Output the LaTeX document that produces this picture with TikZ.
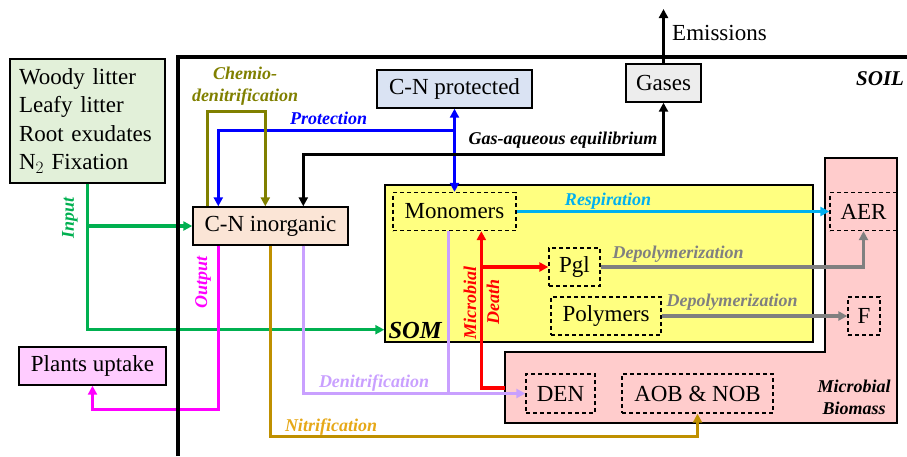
\documentclass[tikz,border=0pt]{standalone}
\usepackage{fontspec}
\setmainfont{Liberation Serif}
\usetikzlibrary{arrows.meta,calc}
\definecolor{litterc}{HTML}{E2F0D9}
\definecolor{inorgc}{HTML}{FBE5D6}
\definecolor{protc}{HTML}{DAE3F3}
\definecolor{gasc}{HTML}{EDEDED}
\definecolor{somc}{HTML}{FFFF80}
\definecolor{pinkc}{HTML}{FFCCCC}
\definecolor{plantc}{HTML}{FFCCFF}
\definecolor{greenl}{HTML}{00B050}
\definecolor{magl}{HTML}{FF00FF}
\definecolor{lavl}{HTML}{C9A0FF}
\definecolor{goldl}{HTML}{BF9000}
\definecolor{goldt}{HTML}{E6A817}
\definecolor{olivel}{HTML}{808000}
\definecolor{bluel}{HTML}{0000FF}
\definecolor{skyl}{HTML}{00B0F0}
\definecolor{grayl}{HTML}{808080}
\definecolor{redl}{HTML}{FF0000}
\begin{document}
\begin{tikzpicture}[x=1pt,y=-1pt,
  bigtext/.style={font=\fontsize{23}{28.5}\selectfont},
  box/.style={draw, line width=1.4pt, inner sep=0pt, bigtext},
  dbox/.style={draw, line width=1.3pt, dash pattern=on 4pt off 3pt, inner sep=0pt, bigtext},
  tip/.style={Triangle[length=9pt,width=9pt]},
  conn/.style={line width=3.2pt, -{Triangle[length=9pt,width=9pt]}},
  conn2/.style={line width=3.2pt, {Triangle[length=9pt,width=9pt]}-{Triangle[length=9pt,width=9pt]}},
  plain/.style={line width=3.2pt},
  lbl/.style={font=\fontsize{18}{20}\selectfont\bfseries\itshape, inner sep=0pt},
]
\useasboundingbox (0,0) rectangle (907,456);
\clip (0,0) rectangle (907,456);

% Microbial biomass L-shape
\draw[fill=pinkc, line width=1.4pt] (505,352) -- (825,352) -- (825,158) -- (897,158) -- (897,423) -- (505,423) -- cycle;
\coordinate (mbl) at (505,388);

% SOM box
\node[box, fill=somc, minimum width=428pt, minimum height=157pt] (som) at (599,263.5) {};
\node[lbl, font=\fontsize{24.5}{26}\selectfont\bfseries\itshape, anchor=south west] (somlbl) at ([xshift=4pt,yshift=4pt]som.south west) {SOM};

% nodes
\node[box, fill=litterc, minimum width=155pt, minimum height=124pt, align=left, text width=137pt] (litter) at (87.5,121)
  {Woody litter\\Leafy litter\\Root exudates\\N$_2$ Fixation};
\node[box, fill=gasc, minimum width=75pt, minimum height=38pt] (gases) at (663.5,83) {Gases};
\node[box, fill=protc, minimum width=155pt, minimum height=38pt] (prot) at (454.5,89) {C-N protected};
\node[box, fill=inorgc, minimum width=155pt, minimum height=38pt] (inorg) at (270.5,226) {C-N inorganic};
\node[box, fill=plantc, minimum width=147pt, minimum height=38pt] (plants) at (92.5,366) {Plants uptake};
\node[dbox, minimum width=123pt, minimum height=38pt] (mono) at (454.5,211.5) {Monomers};
\node[dbox, minimum width=51pt, minimum height=38pt] (pgl) at (574.5,267) {Pgl};
\node[dbox, minimum width=110pt, minimum height=38pt] (poly) at (606,316) {Polymers};
\node[dbox, minimum width=67pt, minimum height=38pt] (aer) at (863.5,211.5) {AER};
\node[dbox, minimum width=32pt, minimum height=38pt] (f) at (864,316) {F};
\node[dbox, minimum width=69pt, minimum height=39pt] (den) at (560.5,393.5) {DEN};
\node[dbox, minimum width=151pt, minimum height=39pt] (aob) at (697.5,393.5) {AOB \& NOB};
\node[bigtext, anchor=west, inner sep=0pt] (emis) at (672,33) {Emissions};
\coordinate (emtop) at (663.5,9);

% connectors
% Input (green)
\draw[conn, greenl] (litter.south) |- ([yshift=13pt]som.south west);
\draw[conn, greenl] (litter.south |- inorg.west) -- (inorg.west);
% Output (magenta)
\draw[conn, magl] ([xshift=26pt]inorg.south west) -- ++(0,164) -| (plants.south);
% Protection (blue)
\draw[conn2, bluel] (prot.south) -- (mono.north);
\draw[conn, bluel] ([yshift=-22pt]prot.south) -| ([xshift=26pt]inorg.north west);
% Chemio-denitrification (olive)
\draw[conn, olivel] ([xshift=15pt]inorg.north west) -- ++(0,-95) -| ([xshift=73pt]inorg.north west);
% Gas-aqueous equilibrium (black)
\draw[conn2] (gases.south) -- ++(0,52) -| ([xshift=111pt]inorg.north west);
% Emissions
\draw[conn] (gases.north) -- (emtop);
% Respiration
\draw[conn, skyl] (mono.east) -- (aer.west);
% Depolymerization
\draw[conn, grayl] (pgl.east) -| (aer.south);
\draw[conn, grayl] (poly.east) -- (f.west);
% Microbial death (red)
\coordinate (dx) at ([xshift=89pt]mono.south west);
\draw[conn, redl] (mbl) -| (dx);
\draw[conn, redl] (dx |- pgl.west) -- (pgl.west);
% Denitrification (lavender)
\draw[conn, lavl] ([xshift=111pt]inorg.south west) |- (den.west);
\draw[plain, lavl] ([xshift=56pt]mono.south west) -- ([xshift=56pt]mono.south west |- den.west);
% Nitrification (gold)
\draw[conn, goldl] ([xshift=78pt]inorg.south west) -- ++(0,191) -| (aob.south);

% SOIL border
\draw[line width=4pt] (178,456) -- (178,57) -- (910,57);
\node[lbl, font=\fontsize{21}{23}\selectfont\bfseries\itshape, anchor=west] (soil) at (856,79) {SOIL};

% labels
\node[lbl, greenl, rotate=90] (linput) at (70,218) {Input};
\node[lbl, magl, rotate=90] (loutput) at (203,282) {Output};
\node[lbl, olivel, align=center, font=\fontsize{18}{22}\selectfont\bfseries\itshape] (lchem) at (245,86) {Chemio-\\denitrification};
\node[lbl, bluel] (lprot) at (328.5,118) {Protection};
\node[lbl] (lgas) at (563,140) {Gas-aqueous equilibrium};
\node[lbl, skyl] (lresp) at (608,201) {Respiration};
\node[lbl, grayl] (ldep1) at (678,254) {Depolymerization};
\node[lbl, grayl] (ldep2) at (732,302) {Depolymerization};
\node[lbl, redl, rotate=90] (lmic) at (470,303) {Microbial};
\node[lbl, redl, rotate=90] (ldeath) at (493,302) {Death};
\node[lbl, lavl] (lden) at (374,383) {Denitrification};
\node[lbl, goldt] (lnit) at (331,427) {Nitrification};
\node[lbl, align=center, font=\fontsize{18}{22}\selectfont\bfseries\itshape] (lmb) at (854,397) {Microbial\\Biomass};
\end{tikzpicture}
\end{document}
